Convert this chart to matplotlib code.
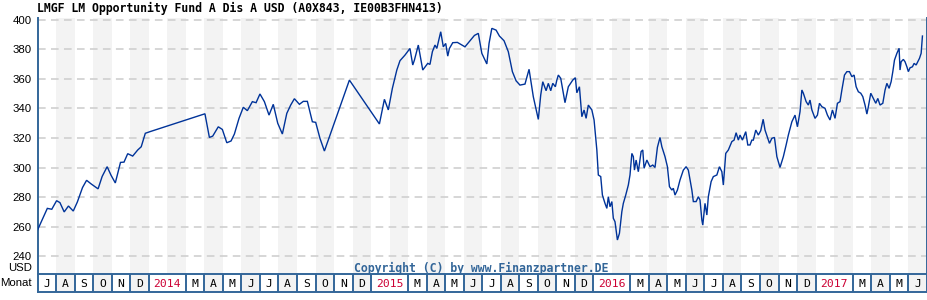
import matplotlib
matplotlib.use("Agg")
import matplotlib.pyplot as plt
from matplotlib.patches import Rectangle

# ---------------- data ----------------
title = "LMGF LM Opportunity Fund A Dis A USD (A0X843, IE00B3FHN413)"
copyright_text = "Copyright (C) by www.Finanzpartner.DE"
start_year = 2013
start_month = 7          # July 2013
n_months = 48            # Jul 2013 .. Jun 2017
month_letters = ["J", "F", "M", "A", "M", "J", "J", "A", "S", "O", "N", "D"]
y_ticks = [240, 260, 280, 300, 320, 340, 360, 380, 400]

# time in months since 1 Jul 2013, fund price in USD
t = [0.0, 0.52, 0.76, 1.02, 1.20, 1.43, 1.66, 1.92, 2.14, 2.42, 2.64, 2.88, 3.26,
     3.48, 3.75, 3.96, 4.19, 4.47, 4.66, 4.86, 5.13, 5.40, 5.59, 5.81, 6.06, 9.03,
     9.27, 9.45, 9.75, 9.97, 10.21, 10.44, 10.62, 10.87, 11.10, 11.32, 11.59, 11.79,
     12.00, 12.24, 12.49, 12.72, 12.96, 13.21, 13.45, 13.66, 13.86, 14.13, 14.34,
     14.56, 14.83, 15.01, 15.24, 15.48, 16.83, 18.45, 18.72, 18.93, 19.15, 19.39,
     19.56, 19.83, 20.10, 20.25, 20.34, 20.55, 20.79, 21.06, 21.18, 21.31, 21.45,
     21.55, 21.76, 21.90, 22.03, 22.14, 22.23, 22.41, 22.66, 23.07, 23.34, 23.58,
     23.79, 23.98, 24.25, 24.37, 24.52, 24.75, 24.93, 25.18, 25.41, 25.63, 25.83,
     26.04, 26.31, 26.53, 26.76, 27.03, 27.16, 27.27, 27.45, 27.57, 27.70, 27.81,
     27.95, 28.03, 28.11, 28.24, 28.47, 28.65, 28.89, 29.03, 29.11, 29.25, 29.38,
     29.50, 29.61, 29.73, 29.92, 30.04, 30.19, 30.27, 30.40, 30.49, 30.63, 30.73,
     30.81, 30.90, 31.00, 31.08, 31.17, 31.30, 31.41, 31.54, 31.62, 31.75, 31.89,
     31.98, 32.08, 32.16, 32.22, 32.31, 32.43, 32.58, 32.67, 32.74, 32.89, 33.06,
     33.21, 33.33, 33.46, 33.60, 33.70, 33.87, 34.00, 34.11, 34.24, 34.32, 34.41,
     34.54, 34.68, 34.86, 35.01, 35.13, 35.32, 35.40, 35.55, 35.67, 35.76, 35.86,
     35.91, 36.03, 36.13, 36.21, 36.36, 36.48, 36.67, 36.81, 36.94, 37.02, 37.15,
     37.29, 37.48, 37.60, 37.71, 37.83, 37.92, 38.05, 38.23, 38.34, 38.46, 38.56,
     38.64, 38.77, 38.91, 39.04, 39.17, 39.27, 39.42, 39.51, 39.64, 39.78, 39.91,
     40.08, 40.26, 40.41, 40.53, 40.72, 40.89, 41.02, 41.16, 41.26, 41.34, 41.49,
     41.61, 41.70, 41.80, 41.97, 42.10, 42.21, 42.34, 42.51, 42.64, 42.78, 42.91,
     43.05, 43.18, 43.32, 43.42, 43.56, 43.69, 43.83, 43.96, 44.08, 44.19, 44.31,
     44.44, 44.55, 44.67, 44.77, 44.85, 44.98, 45.12, 45.25, 45.36, 45.48, 45.63,
     45.75, 45.85, 45.97, 46.08, 46.17, 46.26, 46.39, 46.51, 46.56, 46.62, 46.74,
     46.83, 46.93, 47.01, 47.10, 47.23, 47.32, 47.43, 47.52, 47.61, 47.70, 47.77]

price = [258.0, 272.4, 271.8, 277.6, 276.3, 270.0, 274.0, 270.6, 276.7, 286.5, 291.4,
         289.0, 285.6, 294.0, 300.6, 294.8, 289.6, 303.5, 303.7, 309.4, 307.8, 311.9,
         314.1, 323.2, 324.3, 336.4, 320.4, 321.3, 327.6, 325.8, 316.8, 318.0, 322.7,
         333.3, 340.8, 338.5, 344.6, 343.9, 349.8, 344.6, 335.5, 342.8, 330.0, 322.7,
         336.7, 342.3, 346.6, 342.8, 344.8, 344.8, 331.0, 330.6, 319.8, 311.2, 359.2,
         329.5, 346.2, 339.0, 353.6, 366.0, 372.3, 376.1, 380.6, 369.4, 372.7, 382.9,
         366.0, 370.5, 369.8, 378.4, 382.9, 380.6, 391.9, 381.7, 384.0, 375.4, 380.6,
         384.5, 384.7, 381.7, 385.8, 389.4, 390.8, 377.3, 370.1, 384.0, 394.2, 393.0,
         389.0, 385.8, 378.4, 364.9, 358.7, 355.8, 356.5, 366.5, 347.9, 332.6, 349.1,
         358.1, 352.0, 357.0, 352.0, 357.0, 354.7, 359.2, 362.6, 360.4, 343.9, 354.7,
         359.2, 360.8, 350.6, 354.7, 334.4, 339.0, 333.3, 342.3, 339.0, 332.2, 311.9,
         295.0, 293.9, 281.4, 275.8, 272.4, 280.3, 273.5, 277.0, 265.7, 263.4, 251.0,
         255.5, 270.2, 275.8, 281.4, 288.2, 295.0, 309.6, 307.4, 298.3, 305.1, 297.2,
         310.8, 311.9, 299.5, 305.1, 300.6, 301.7, 300.1, 313.7, 320.4, 314.1, 307.4,
         300.6, 287.1, 284.8, 286.0, 281.4, 284.8, 291.6, 298.3, 300.6, 298.3, 284.8,
         277.0, 277.0, 280.3, 278.1, 264.5, 261.1, 275.8, 267.9, 280.3, 290.5, 293.9,
         295.0, 300.6, 297.2, 288.2, 309.6, 311.9, 317.6, 318.6, 323.6, 318.6, 322.0,
         318.6, 324.3, 315.3, 315.3, 318.6, 318.6, 325.4, 322.0, 325.0, 332.7, 325.4,
         319.8, 316.4, 319.8, 320.4, 307.4, 300.1, 307.4, 315.3, 322.0, 331.0, 335.5,
         327.6, 337.8, 352.5, 350.3, 344.6, 342.3, 345.7, 339.0, 333.3, 335.5, 343.5,
         341.2, 340.1, 335.5, 332.2, 339.0, 333.3, 343.5, 344.6, 352.5, 362.6, 364.9,
         364.9, 361.5, 362.6, 354.7, 351.3, 350.3, 348.0, 342.3, 336.2, 341.2, 350.3,
         346.8, 343.5, 346.8, 342.3, 343.5, 352.4, 357.0, 353.6, 358.1, 364.9, 372.7,
         377.3, 380.7, 366.0, 371.6, 373.2, 371.6, 368.2, 364.9, 367.5, 368.2, 370.5,
         369.4, 371.6, 373.9, 377.3, 389.0]

# ---------------- style ----------------
W, H = 928, 300
LINE_C = "#003399"
FRAME_C = "#336699"
BAND_C = "#f3f3f3"
GRID_C = "#cccccc"
YEAR_C = "#cc0033"

def fx(px):
    return px / W

def fy(py):
    return 1 - py / H

fig = plt.figure(figsize=(W / 100, H / 100), dpi=100)
fig.patch.set_facecolor("white")

left_px, right_px = 37.7, 926.7
top_px, bottom_px = 18.0, 274.3
row_bottom_px = 292.0

ax = fig.add_axes([fx(left_px), fy(bottom_px), fx(right_px - left_px),
                   (bottom_px - top_px) / H])
ax.set_xlim(0, n_months)
ax.set_ylim(227.8, 401.2)

# month bands
for i in range(n_months):
    if i % 2 == 1:
        ax.axvspan(i, i + 1, color=BAND_C, lw=0, zorder=0)

# grid
for yt in y_ticks:
    ax.axhline(yt, color=GRID_C, lw=1.1, dashes=(5, 3.5), zorder=1)

ax.plot(t, price, color=LINE_C, lw=1.0, zorder=3, solid_joinstyle="miter")

for s in ["top", "bottom"]:
    ax.spines[s].set_visible(False)
for s in ["left", "right"]:
    ax.spines[s].set_color(FRAME_C)
    ax.spines[s].set_linewidth(1.4)

ax.set_xticks([])
ax.set_yticks(y_ticks)
ax.set_yticklabels([str(v) for v in y_ticks], family="Liberation Sans", fontsize=8.2)
ax.tick_params(axis="y", length=0, pad=4.5)

# ---------------- month label row ----------------
axr = fig.add_axes([fx(left_px), fy(row_bottom_px), fx(right_px - left_px),
                    (row_bottom_px - bottom_px) / H])
axr.set_xlim(0, n_months)
axr.set_ylim(0, 1)
axr.set_xticks([])
axr.set_yticks([])
for s in axr.spines.values():
    s.set_color(FRAME_C)
    s.set_linewidth(1.4)

for i in range(n_months):
    cal = (start_month - 1 + i) % 12
    year = start_year + (start_month - 1 + i) // 12
    if cal == 1:   # February merged into year cell
        continue
    if cal == 0:
        span = 2
        label = str(year)
        col = YEAR_C
        shade = False
    else:
        span = 1
        label = month_letters[cal]
        col = "black"
        shade = (i % 2 == 1)
    if shade:
        axr.add_patch(Rectangle((i, 0), span, 1, color=BAND_C, lw=0, zorder=0))
    if i > 0:
        axr.axvline(i, color=FRAME_C, lw=1.4, zorder=2)
    axr.text(i + span / 2, 0.45, label, ha="center", va="center", color=col,
             family="DejaVu Sans Mono", fontsize=8.2, zorder=3)

# ---------------- texts ----------------
fig.text(fx(37), fy(8.5), title, ha="left", va="center", family="DejaVu Sans Mono",
         fontweight="bold", fontsize=8.3, color="black")
fig.text(fx(481), fy(268), copyright_text, ha="center", va="center",
         family="DejaVu Sans Mono", fontweight="bold", fontsize=8.3, color=FRAME_C)
fig.text(fx(32.5), fy(268), "USD", ha="right", va="center", family="Liberation Sans",
         fontsize=8.2, color="black")
fig.text(fx(0), fy(283.5), "Monat", ha="left", va="center", family="Liberation Sans",
         fontsize=8.2, color="black")

fig.savefig("out.png", dpi=100, facecolor="white")
